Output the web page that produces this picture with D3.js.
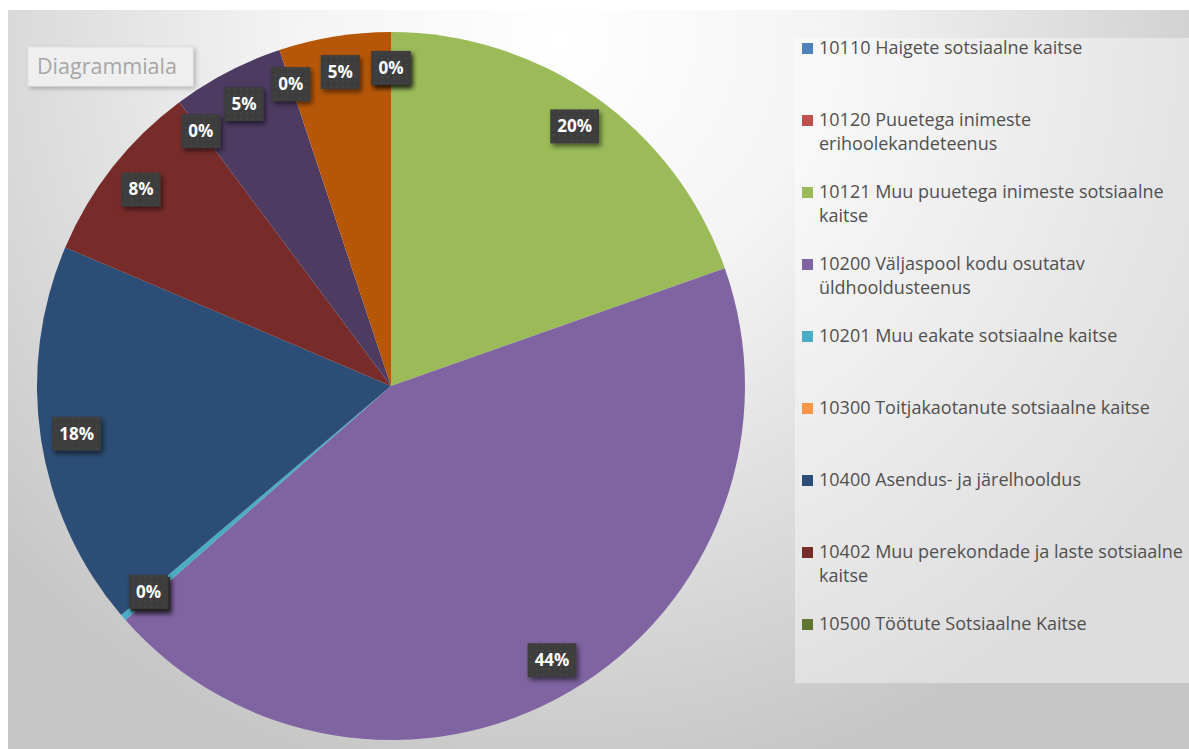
<!DOCTYPE html>
<html>
<head>
<meta charset="utf-8">
<script src="https://cdn.jsdelivr.net/npm/d3@7"></script>
<style>
  body { margin: 0; background: #fff; }
  svg { display: block; }
</style>
</head>
<body>
<svg id="chart"></svg>
<script>
// slice data, clockwise from 12 o'clock (percent of total)
const categories = [
  "10110 Haigete sotsiaalne kaitse",
  "10120 Puuetega inimeste erihoolekandeteenus",
  "10121 Muu puuetega inimeste sotsiaalne kaitse",
  "10200 Väljaspool kodu osutatav üldhooldusteenus",
  "10201 Muu eakate sotsiaalne kaitse",
  "10300 Toitjakaotanute sotsiaalne kaitse",
  "10400 Asendus- ja järelhooldus",
  "10402 Muu perekondade ja laste sotsiaalne kaitse",
  "10500 Töötute Sotsiaalne Kaitse",
  "10600 Eluasemeteenused",
  "10700 Muu sotsiaalsete riskirühmade kaitse",
  "10900 Muu sotsiaalne kaitse"
];
const values = [0, 0, 19.6, 43.9, 0.3, 0, 17.6, 8.4, 0, 5.1, 0, 5.1];
const colors = ["#4F81BD", "#C0504D", "#9BBB59", "#8064A2", "#4BACC6", "#F79646",
                "#2C4D75", "#772C2A", "#5F7530", "#4D3B62", "#276A7C", "#B65708"];
const legendShown = 9; // rest of the legend is scrolled out of view

const width = 1189, height = 749;
const cx = 391, cy = 386, radius = 354;

const svg = d3.select("#chart").attr("width", width).attr("height", height);
const defs = svg.append("defs");

// chart area background
const bg = defs.append("radialGradient").attr("id", "bg")
  .attr("gradientUnits", "userSpaceOnUse")
  .attr("cx", 560).attr("cy", 40).attr("r", 760);
bg.append("stop").attr("offset", 0).attr("stop-color", "#ffffff");
bg.append("stop").attr("offset", 0.35).attr("stop-color", "#f4f4f4");
bg.append("stop").attr("offset", 1).attr("stop-color", "#c6c6c6");

const pat = defs.append("pattern").attr("id", "dots")
  .attr("width", 6).attr("height", 6).attr("patternUnits", "userSpaceOnUse");
pat.append("rect").attr("width", 6).attr("height", 6).attr("fill", "#3c3c3c");
pat.append("rect").attr("x", 2).attr("y", 2).attr("width", 1.5).attr("height", 1.5).attr("fill", "#4c4c4c");

const shadow = defs.append("filter").attr("id", "shadow")
  .attr("x", "-30%").attr("y", "-30%").attr("width", "160%").attr("height", "170%");
shadow.append("feDropShadow").attr("dx", 2).attr("dy", 3).attr("stdDeviation", 2.5)
  .attr("flood-color", "#000").attr("flood-opacity", 0.55);

const tipShadow = defs.append("filter").attr("id", "tipShadow")
  .attr("x", "-10%").attr("y", "-20%").attr("width", "130%").attr("height", "160%");
tipShadow.append("feDropShadow").attr("dx", 2).attr("dy", 2).attr("stdDeviation", 2)
  .attr("flood-color", "#000").attr("flood-opacity", 0.25);

svg.append("rect").attr("x", 8).attr("y", 10)
  .attr("width", width - 8).attr("height", height - 10)
  .attr("fill", "url(#bg)");

// pie
const data = categories.map((c, i) => ({ name: c, value: values[i], color: colors[i] }));
const pie = d3.pie().sort(null).value(d => d.value).startAngle(0).endAngle(2 * Math.PI);
const arcs = pie(data);
const arc = d3.arc().innerRadius(0).outerRadius(radius);
const labelArc = d3.arc().innerRadius(318).outerRadius(318);

const g = svg.append("g").attr("transform", `translate(${cx},${cy})`);
g.selectAll("path")
  .data(arcs)
  .join("path")
  .attr("d", arc)
  .attr("fill", d => d.data.color);

// data labels
const total = d3.sum(values);
const fmt = d => Math.round(d.value / total * 100) + "%";
const labels = g.append("g")
  .style("font-family", "'Open Sans', 'Noto Sans', sans-serif")
  .style("font-size", "17px")
  .style("font-weight", "bold")
  .selectAll("g")
  .data(arcs)
  .join("g")
  .attr("transform", d => `translate(${labelArc.centroid(d)})`);

labels.append("text")
  .attr("text-anchor", "middle")
  .attr("dy", "0.35em")
  .attr("fill", "#fff")
  .text(d => fmt(d.data));

labels.each(function () {
  const t = d3.select(this).select("text");
  const w = t.node().getComputedTextLength();
  d3.select(this).insert("rect", "text")
    .attr("x", -w / 2 - 7).attr("y", -17)
    .attr("width", w + 14).attr("height", 34)
    .attr("fill", "url(#dots)")
    .attr("filter", "url(#shadow)");
});

// legend
const lg = svg.append("g");
lg.append("rect").attr("x", 795).attr("y", 38)
  .attr("width", width - 795).attr("height", 683 - 38)
  .attr("fill", "#ffffff").attr("fill-opacity", 0.4);

const legendItems = lg.selectAll("g.item")
  .data(data.slice(0, legendShown))
  .join("g")
  .attr("class", "item")
  .attr("transform", (d, i) => `translate(802,${48 + i * 72})`);

legendItems.append("rect")
  .attr("x", 0).attr("y", -5)
  .attr("width", 11).attr("height", 11)
  .attr("fill", d => d.color);

legendItems.append("text")
  .attr("x", 17)
  .attr("fill", "#505050")
  .style("font-family", "'Open Sans', 'Noto Sans', sans-serif")
  .style("font-size", "18px")
  .each(function (d) {
    const text = d3.select(this);
    const words = d.name.split(" ");
    let line = [];
    let tspan = text.append("tspan").attr("x", 17).attr("dy", "0.35em");
    for (const w of words) {
      line.push(w);
      tspan.text(line.join(" "));
      if (tspan.node().getComputedTextLength() > 392 && line.length > 1) {
        line.pop();
        tspan.text(line.join(" "));
        line = [w];
        tspan = text.append("tspan").attr("x", 17).attr("dy", "24px").text(w);
      }
    }
  });

// hover tooltip left over in the screenshot
const tip = svg.append("g").attr("transform", "translate(28,47)");
tip.append("rect").attr("width", 165).attr("height", 39)
  .attr("fill", "#efefef").attr("stroke", "#e2e2e2")
  .attr("filter", "url(#tipShadow)");
tip.append("text").attr("x", 9).attr("y", 27)
  .attr("fill", "#a6a6a6")
  .style("font-family", "'Open Sans', 'Noto Sans', sans-serif")
  .style("font-size", "21.5px")
  .text("Diagrammiala");
</script>
</body>
</html>
